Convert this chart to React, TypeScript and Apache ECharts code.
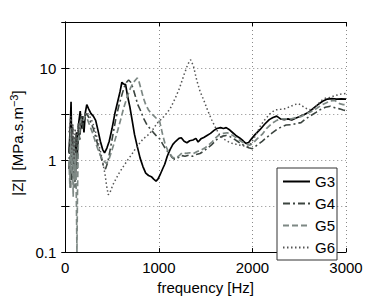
import React, { useEffect, useRef } from "react";
import * as echarts from "echarts";

const seriesNames = ["G3", "G4", "G5", "G6"];
const xTicks = [0, 1000, 2000, 3000];
const yTickLabels = ["0.1", "1", "10"];

const g3: [number, number][] = [
  [40, 1.2], [55, 2.5], [62, 4.3], [68, 1.6], [75, 0.9], [82, 1.8], [90, 0.8], [100, 1.5], [110, 0.7],
  [120, 2.0], [130, 1.2], [145, 2.6], [160, 3.4], [172, 2.2], [185, 3.0], [200, 2.0], [215, 3.3],
  [230, 4.0], [250, 3.6], [275, 3.2], [300, 3.0], [325, 2.7], [350, 2.1], [375, 1.6], [400, 1.3],
  [420, 1.2], [445, 1.35], [470, 1.6], [500, 2.2], [530, 3.2], [560, 4.3], [585, 5.5], [605, 7.0],
  [625, 6.7], [645, 6.6], [665, 5.0], [690, 3.8], [715, 2.7], [740, 1.9], [770, 1.4], [800, 1.05],
  [830, 0.85], [860, 0.72], [890, 0.68], [920, 0.66], [945, 0.62], [970, 0.59], [990, 0.62],
  [1010, 0.68], [1040, 0.8], [1063, 0.9], [1090, 1.1], [1120, 1.3], [1150, 1.48], [1180, 1.6],
  [1215, 1.72], [1240, 1.75], [1270, 1.6], [1300, 1.54], [1330, 1.62], [1365, 1.65], [1396, 1.72],
  [1420, 1.57], [1450, 1.7], [1480, 1.76], [1515, 1.85], [1552, 1.95], [1590, 2.1], [1620, 2.2],
  [1660, 2.25], [1690, 2.2], [1720, 2.25], [1750, 2.15], [1790, 1.98], [1823, 1.85], [1860, 1.75],
  [1900, 1.62], [1930, 1.52], [1960, 1.55], [1990, 1.7], [2030, 1.9], [2083, 2.15], [2130, 2.45],
  [2180, 2.75], [2220, 2.9], [2260, 3.0], [2300, 2.8], [2340, 2.75], [2380, 2.8], [2420, 2.72],
  [2460, 2.85], [2500, 2.95], [2550, 3.1], [2600, 3.3], [2650, 3.65], [2700, 4.0], [2750, 4.35],
  [2800, 4.6], [2850, 4.65], [2900, 4.6], [2950, 4.62], [3000, 4.6],
];

const g4: [number, number][] = [
  [40, 0.8], [50, 2.0], [58, 0.5], [65, 1.8], [72, 0.6], [80, 2.3], [88, 0.7], [95, 1.5], [105, 0.5],
  [115, 2.0], [125, 0.8], [140, 2.5], [155, 1.6], [170, 3.0], [185, 2.2], [200, 3.0], [220, 3.2],
  [245, 3.0], [270, 2.6], [300, 2.2], [330, 1.7], [360, 1.3], [390, 1.0], [410, 0.85], [430, 0.8],
  [455, 0.95], [480, 1.3], [510, 1.9], [540, 2.8], [570, 3.8], [600, 4.9], [630, 6.2], [655, 7.0],
  [677, 7.4], [700, 7.0], [725, 6.0], [750, 4.9], [775, 4.0], [802, 3.5], [840, 2.8], [875, 2.4],
  [906, 2.2], [950, 1.95], [980, 1.8], [1010, 1.7], [1040, 1.5], [1075, 1.3], [1115, 1.17],
  [1140, 1.07], [1170, 1.02], [1200, 1.05], [1240, 1.12], [1280, 1.1], [1320, 1.13], [1360, 1.1],
  [1400, 1.15], [1440, 1.18], [1480, 1.25], [1520, 1.35], [1560, 1.45], [1600, 1.6], [1640, 1.75],
  [1680, 1.82], [1720, 1.85], [1760, 1.8], [1800, 1.7], [1840, 1.6], [1880, 1.5], [1920, 1.42],
  [1960, 1.36], [2000, 1.33], [2050, 1.45], [2104, 1.6], [2150, 1.75], [2208, 1.96], [2260, 2.15],
  [2312, 2.3], [2360, 2.4], [2417, 2.42], [2470, 2.5], [2520, 2.55], [2570, 2.8], [2625, 3.05],
  [2680, 3.3], [2729, 3.55], [2780, 3.75], [2833, 3.85], [2880, 3.7], [2930, 3.6], [2970, 3.5],
  [3000, 3.45],
];

const g5: [number, number][] = [
  [40, 1.0], [50, 0.5], [58, 2.2], [66, 0.7], [75, 1.5], [85, 0.4], [95, 1.8], [105, 0.6], [112, 1.2],
  [120, 0.3], [125, 0.1], [130, 0.4], [140, 1.6], [155, 2.2], [170, 2.8], [190, 2.6], [210, 3.0],
  [235, 2.8], [260, 2.4], [290, 2.0], [320, 1.6], [350, 1.3], [380, 1.1], [410, 0.98], [440, 0.92],
  [465, 1.0], [490, 1.2], [520, 1.5], [555, 2.0], [590, 2.7], [625, 3.7], [660, 4.8], [695, 6.0],
  [730, 7.0], [755, 7.5], [771, 7.8], [790, 7.0], [812, 5.8], [833, 4.8], [860, 4.0], [890, 3.5],
  [920, 3.2], [950, 3.0], [980, 2.8], [1010, 2.6], [1040, 1.9], [1070, 1.45], [1100, 1.25],
  [1146, 1.07], [1180, 1.05], [1210, 1.1], [1250, 1.2], [1290, 1.18], [1330, 1.2], [1370, 1.18],
  [1410, 1.24], [1450, 1.28], [1490, 1.35], [1530, 1.45], [1570, 1.58], [1610, 1.75], [1650, 1.9],
  [1690, 1.95], [1730, 1.98], [1770, 1.9], [1810, 1.8], [1850, 1.68], [1890, 1.57], [1930, 1.5],
  [1970, 1.45], [2000, 1.5], [2050, 1.7], [2104, 1.9], [2150, 2.2], [2208, 2.5], [2260, 2.7],
  [2312, 2.8], [2360, 2.8], [2417, 2.8], [2470, 2.9], [2520, 2.97], [2570, 3.15], [2625, 3.35],
  [2680, 3.6], [2729, 3.9], [2780, 4.15], [2833, 4.4], [2880, 4.45], [2930, 4.1], [2970, 4.0],
  [3000, 4.0],
];

const g6: [number, number][] = [
  [40, 2.0], [60, 3.0], [70, 1.2], [80, 2.5], [95, 1.0], [105, 2.2], [120, 1.4], [140, 2.5], [160, 2.0],
  [180, 2.8], [200, 3.1], [230, 3.3], [260, 3.0], [290, 2.6], [320, 2.1], [350, 1.6], [380, 1.2],
  [400, 0.95], [425, 0.7], [445, 0.5], [460, 0.42], [480, 0.45], [510, 0.54], [540, 0.62], [575, 0.72],
  [620, 0.85], [667, 1.0], [710, 1.15], [750, 1.33], [790, 1.5], [833, 1.7], [880, 1.85], [930, 2.1],
  [980, 2.5], [1030, 2.8], [1070, 3.1], [1120, 3.6], [1167, 4.5], [1220, 6.0], [1270, 8.5],
  [1310, 11.0], [1340, 12.3], [1370, 10.5], [1406, 7.3], [1440, 5.6], [1479, 4.5], [1520, 3.5],
  [1563, 2.76], [1610, 2.2], [1656, 1.83], [1710, 1.65], [1760, 1.54], [1830, 1.48], [1896, 1.43],
  [1950, 1.4], [1990, 1.55], [2040, 1.9], [2090, 2.4], [2135, 2.76], [2190, 3.2], [2240, 3.5],
  [2290, 3.55], [2344, 3.6], [2400, 3.8], [2450, 4.0], [2490, 4.1], [2520, 3.95], [2560, 3.7],
  [2600, 3.55], [2640, 3.5], [2690, 3.9], [2730, 4.4], [2780, 4.7], [2830, 4.8], [2880, 5.0],
  [2940, 5.2], [3000, 5.3],
];

const FONT = "Liberation Sans, Arial, Helvetica, sans-serif";

function yLabel(v: number): string {
  const l = Math.log10(v);
  const r = Math.round(l);
  if (Math.abs(l - r) < 0.01) {
    const idx = r + 1;
    return yTickLabels[idx] ?? "";
  }
  return "";
}

export default function App() {
  const ref = useRef<HTMLDivElement>(null);
  useEffect(() => {
    if (!ref.current) return;
    const chart = echarts.init(ref.current, undefined, { renderer: "svg" });
    const gridLine = { show: true, lineStyle: { color: "#8a8a8a", type: [1, 3] as any, width: 1 } };
    const yBase = {
      type: "log" as const,
      logBase: Math.sqrt(10),
      min: 0.1,
      max: Math.pow(10, 1.5),
      splitNumber: 5,
      axisLine: { show: true, lineStyle: { color: "#000", width: 1 } },
      axisTick: { show: true, inside: true, length: 4, lineStyle: { color: "#000" } },
    };
    chart.setOption({
      animation: false,
      backgroundColor: "#fff",
      textStyle: { fontFamily: FONT },
      grid: { left: 58, right: 36, top: 22, bottom: 41 },
      legend: {
        orient: "vertical",
        left: 277,
        top: 168,
        data: seriesNames,
        itemWidth: 27,
        itemHeight: 14,
        itemGap: 7,
        padding: [6, 2, 5, 5],
        borderColor: "#333",
        borderWidth: 1,
        backgroundColor: "#fff",
        itemStyle: { opacity: 0 },
        textStyle: { fontSize: 15, color: "#000", fontFamily: FONT },
      },
      xAxis: [
        {
          type: "value",
          min: xTicks[0],
          max: xTicks[xTicks.length - 1],
          interval: 1000,
          name: "frequency [Hz]",
          nameLocation: "middle",
          nameGap: 23,
          nameTextStyle: { fontSize: 15, color: "#000", fontFamily: FONT },
          axisLine: { show: true, onZero: false, lineStyle: { color: "#000", width: 1 } },
          axisTick: { show: true, inside: true, length: 4, lineStyle: { color: "#000" } },
          axisLabel: { fontSize: 15, color: "#000", margin: 8, fontFamily: FONT, formatter: (v: number) => String(v) },
          splitLine: gridLine,
        },
        {
          type: "value",
          position: "top",
          min: 0,
          max: 3000,
          interval: 1000,
          axisLine: { show: true, onZero: false, lineStyle: { color: "#000", width: 1 } },
          axisTick: { show: true, inside: true, length: 4, lineStyle: { color: "#000" } },
          axisLabel: { show: false },
          splitLine: { show: false },
        },
      ],
      yAxis: [
        {
          ...yBase,
          position: "left",
          name: "|Z|  [MPa.s.m{sup|−3}]",
          nameLocation: "middle",
          nameRotate: 90,
          nameGap: 33,
          nameTextStyle: {
            fontSize: 15,
            color: "#000",
            fontFamily: FONT,
            padding: [0, 12, 0, 0],
            rich: { sup: { fontSize: 11, verticalAlign: "top", color: "#000", fontFamily: FONT, padding: [0, 0, 7, 0] } },
          },
          axisLabel: { fontSize: 15, color: "#000", margin: 9, formatter: yLabel, fontFamily: FONT },
          splitLine: gridLine,
        },
        {
          ...yBase,
          position: "right",
          axisLabel: { show: false },
          splitLine: { show: false },
        },
      ],
      series: [
        { name: "G3", type: "line", data: g3, symbol: "none", lineStyle: { color: "#000", width: 1.7, type: "solid" }, itemStyle: { color: "#000" } },
        { name: "G4", type: "line", data: g4, symbol: "none", lineStyle: { color: "#3c4540", width: 1.6, type: [7, 3, 2, 3] }, itemStyle: { color: "#3c4540" } },
        { name: "G5", type: "line", data: g5, symbol: "none", lineStyle: { color: "#7d8884", width: 1.7, type: [6, 3] }, itemStyle: { color: "#7d8884" } },
        { name: "G6", type: "line", data: g6, symbol: "none", lineStyle: { color: "#555", width: 1.5, type: [1.5, 2.5] }, itemStyle: { color: "#555" } },
      ],
    });
    return () => chart.dispose();
  }, []);
  return <div ref={ref} style={{ width: 382, height: 300, position: "absolute", left: 0, top: 0 }} />;
}
